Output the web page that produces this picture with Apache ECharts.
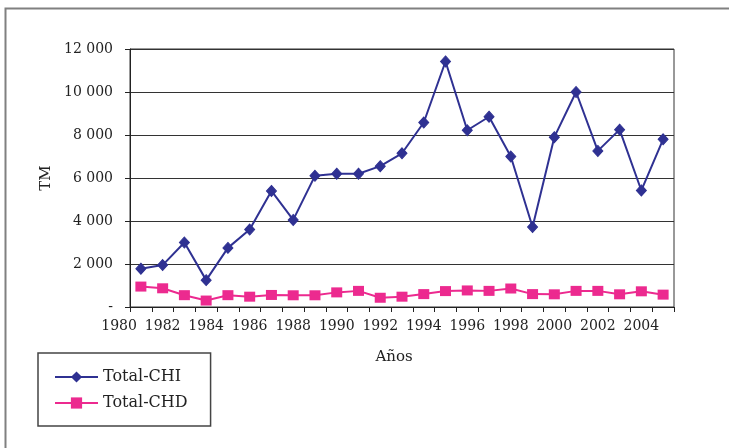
<!DOCTYPE html>
<html>
<head>
<meta charset="utf-8">
<script src="https://cdn.jsdelivr.net/npm/echarts@6/dist/echarts.min.js"></script>
<style>
html, body { margin: 0; padding: 0; background: #fff; }
#chart1 { width: 729px; height: 448px; }
</style>
</head>
<body>
<div id="chart1"></div>
<script>
// años con datos (1981-2005)
var years = ['1981', '1982', '1983', '1984', '1985', '1986', '1987', '1988', '1989', '1990',
	'1991', '1992', '1993', '1994', '1995', '1996', '1997', '1998', '1999', '2000',
	'2001', '2002', '2003', '2004', '2005'];
// etiqueta que queda a la izquierda del eje
var firstLabel = '1980';
var totalCHI = [1780, 1950, 3000, 1250, 2750, 3600, 5400, 4050, 6100, 6200,
	6200, 6550, 7150, 8580, 11420, 8220, 8850, 7000, 3720, 7900,
	10000, 7260, 8250, 5420, 7800];
var totalCHD = [950, 870, 550, 300, 550, 480, 560, 545, 545, 680,
	750, 430, 480, 600, 740, 770, 750, 860, 600, 590,
	750, 750, 590, 730, 575];
var yMin = 0, yMax = 12000, yStep = 2000;

var font = 'DejaVu Serif';
var myChart = echarts.init(document.getElementById('chart1'));

function fmtNum(v) {
	if (v === 0) return '-';
	return String(v).replace(/\B(?=(\d{3})+(?!\d))/g, ' ');
}

var option = {
	backgroundColor: '#fff',
	animation: false,
	color: ['#2f3192', '#ec2a8f'],
	grid: {
		left: 130, right: 55, top: 49, bottom: 141,
		show: true, borderColor: '#333', borderWidth: 1
	},
	legend: {
		orient: 'vertical',
		left: 38, top: 353,
		borderColor: '#444', borderWidth: 1.5,
		padding: [16, 23, 15, 16],
		itemWidth: 43, itemHeight: 14, itemGap: 10,
		textStyle: { fontFamily: font, fontSize: 16, color: '#222' },
		data: ['Total-CHI', 'Total-CHD']
	},
	xAxis: {
		type: 'category',
		data: years,
		boundaryGap: true,
		name: 'Años',
		nameLocation: 'middle',
		nameGap: 43,
		nameTextStyle: { fontFamily: font, fontSize: 15, color: '#222', padding: [0, 16, 0, 0] },
		axisLine: { lineStyle: { color: '#222', width: 1 } },
		axisTick: { show: true, interval: 0, length: 5, lineStyle: { color: '#222' } },
		axisLabel: {
			interval: function (index, value) { return Number(value) % 2 === 0; },
			margin: 12,
			fontFamily: font, fontSize: 14, color: '#222'
		},
		splitLine: { show: false }
	},
	yAxis: {
		type: 'value',
		min: yMin, max: yMax, interval: yStep,
		name: 'TM',
		nameLocation: 'middle',
		nameGap: 69,
		nameTextStyle: { fontFamily: font, fontSize: 15, color: '#222' },
		axisLine: { show: true, lineStyle: { color: '#222', width: 1 } },
		axisTick: { show: true, length: 5, lineStyle: { color: '#222' } },
		axisLabel: {
			margin: 17,
			fontFamily: font, fontSize: 14, color: '#222',
			formatter: fmtNum
		},
		splitLine: { show: true, lineStyle: { color: '#333', width: 1 } }
	},
	series: [
		{
			name: 'Total-CHI',
			type: 'line',
			data: totalCHI,
			symbol: 'diamond',
			symbolSize: [10, 11],
			showAllSymbol: true,
			lineStyle: { width: 2 },
			itemStyle: { borderColor: '#2f3192' }
		},
		{
			name: 'Total-CHD',
			type: 'line',
			data: totalCHD,
			symbol: 'rect',
			symbolSize: [11, 10],
			showAllSymbol: true,
			lineStyle: { width: 2 }
		}
	]
};
myChart.setOption(option);

// etiqueta 1980: una categoria a la izquierda de la primera
var x0 = myChart.convertToPixel({ xAxisIndex: 0 }, years[0]);
var x1 = myChart.convertToPixel({ xAxisIndex: 0 }, years[1]);
var yBase = myChart.convertToPixel({ yAxisIndex: 0 }, yMin);
myChart.setOption({
	graphic: [
		{
			type: 'text',
			x: x0 - (x1 - x0), y: yBase + 12,
			style: {
				text: firstLabel, fill: '#222',
				font: '14px "' + font + '"',
				align: 'center', verticalAlign: 'top'
			}
		},
		{
			type: 'polyline',
			shape: { points: [[5.5, 448], [5.5, 8.5], [729, 8.5]] },
			style: { stroke: '#808080', lineWidth: 2, fill: null }
		}
	]
});
</script>
</body>
</html>
